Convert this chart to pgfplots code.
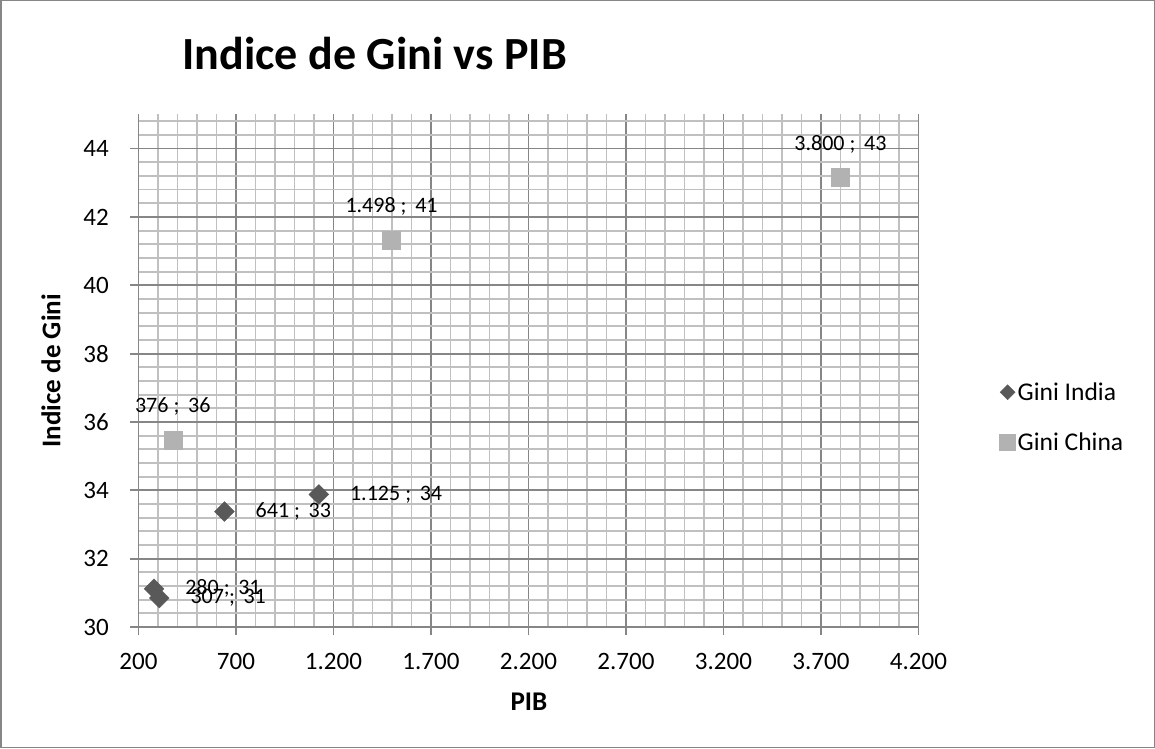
\documentclass[border=0pt]{standalone}
\usepackage{pgfplots}
\usepackage{pgfplotstable}
\pgfplotsset{compat=1.18}
\usepackage{fontspec}
\setmainfont{Carlito}
\definecolor{indiac}{RGB}{89,89,89}
\definecolor{chinac}{RGB}{178,178,178}
\definecolor{majgrid}{RGB}{134,134,134}
\definecolor{mingrid}{RGB}{192,192,192}
% semicolon that pgfplots won't read as a separator
\newcommand\semi{\ \char"3B\ \,}
\pgfplotstableread[col sep=comma]{
x,y,lab
280,31.12,280\semi 31
307,30.85,307\semi 31
641,33.38,641\semi 33
1125,33.88,1.125\semi 34
}\india
\pgfplotstableread[col sep=comma]{
x,y,lab
376,35.48,376\semi 36
1498,41.33,1.498\semi 41
3800,43.16,3.800\semi 43
}\china
\begin{document}
\begin{tikzpicture}
  % chart frame
  \draw[majgrid, line width=1.5pt] (1.5pt,1.5pt) rectangle (1153.5pt,747.5pt);
  \begin{axis}[
    at={(139pt,122pt)}, anchor=south west,
    scale only axis, width=779pt, height=512pt,
    xmin=200, xmax=4200, ymin=30, ymax=45,
    xtick={200,700,...,4200},
    ytick={30,32,...,44},
    minor x tick num=4,
    minor ytick={30.4,30.8,...,44.9},
    scaled x ticks=false,
    grid=both,
    major grid style={majgrid, line width=1.8pt},
    minor grid style={mingrid, line width=1.8pt},
    axis x line*=bottom, axis y line*=left,
    axis line style={majgrid, line width=1.8pt, -},
    tick align=outside, major tick length=8pt, minor tick length=0pt,
    tick style={majgrid, line width=1.8pt},
    /pgf/number format/assume math mode=true,
    /pgf/number format/1000 sep={.},
    tick label style={font=\fontsize{25}{25}\selectfont},
    yticklabel style={xshift=-18pt},
    xticklabel style={yshift=-15pt},
    legend style={draw=none, fill=none, at={(1.10,0.409)}, anchor=west,
      font=\fontsize{25.5}{25.5}\selectfont, row sep=27pt,
      nodes={inner sep=2pt}},
    legend cell align=left,
    legend image code/.code={\draw[#1] plot coordinates {(0pt,0pt)};},
  ]
    \addplot[only marks, mark=square*, mark size=7pt, color=indiac,
      mark options={rotate=45},
      nodes near coords, point meta=explicit symbolic,
      nodes near coords style={anchor=west, xshift=31pt, inner sep=0pt,
        text=black, font=\fontsize{22}{22}\selectfont},
      legend image post style={mark size=5.3pt}]
      table[x=x, y=y, meta=lab] {\india};
    \addlegendentry{Gini India}
    \addplot[only marks, mark=square*, mark size=9pt, color=chinac,
      nodes near coords, point meta=explicit symbolic,
      nodes near coords style={anchor=base, yshift=27pt, inner sep=0pt,
        text=black, font=\fontsize{22}{22}\selectfont},
      legend image post style={mark size=8pt}]
      table[x=x, y=y, meta=lab] {\china};
    \addlegendentry{Gini China}
  \end{axis}
  \node[font=\fontsize{46}{46}\selectfont\bfseries, anchor=base] at (375pt,679pt) {Indice de Gini vs PIB};
  \node[font=\fontsize{27}{27}\selectfont\bfseries, anchor=base, rotate=90] at (61pt,378pt) {Indice de Gini};
  \node[font=\fontsize{27}{27}\selectfont\bfseries, anchor=base] at (529pt,39pt) {PIB};
\end{tikzpicture}
\end{document}
